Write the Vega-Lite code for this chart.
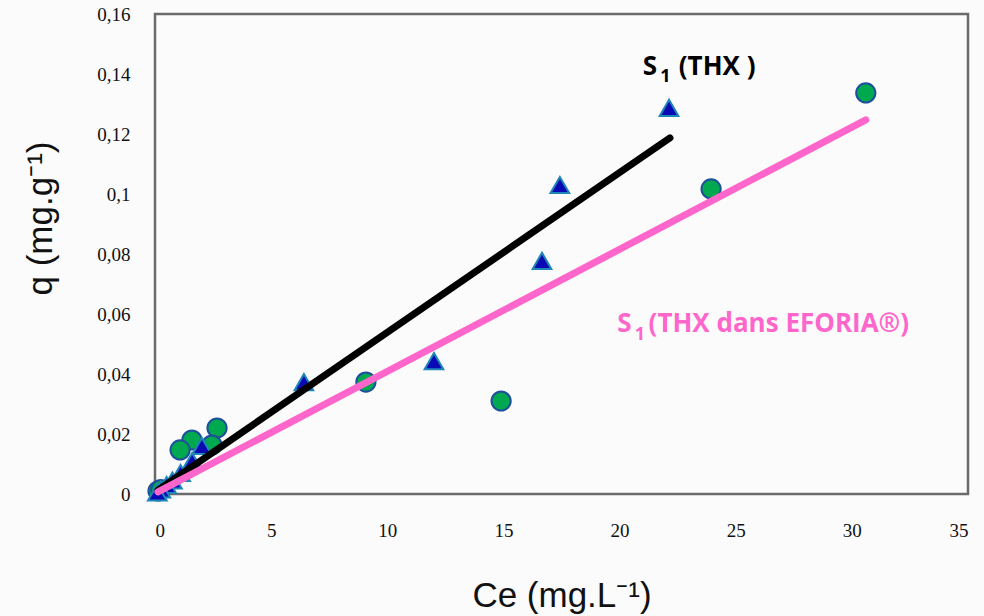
{
  "$schema": "https://vega.github.io/schema/vega-lite/v6.json",
  "width": 813,
  "height": 480,
  "autosize": {"type": "none"},
  "padding": {"left": 155, "top": 14, "right": 16, "bottom": 122},
  "background": "#fbfbfb",
  "config": {
    "view": {"stroke": "#6a6a6a", "strokeWidth": 2.5, "fill": "#fbfbfb"},
    "axis": {"domain": false, "ticks": false, "grid": false, "labelFont": "Liberation Serif", "labelFontSize": 19, "labelColor": "#111", "titleFont": "Liberation Sans", "titleFontWeight": "normal", "titleFontSize": 35, "titleColor": "#111"}
  },
  "datasets": {
    "points": [
      {"ce": 30.6, "q": 0.1337, "serie": "EFORIA"},
      {"ce": 23.94, "q": 0.1017, "serie": "EFORIA"},
      {"ce": 14.9, "q": 0.031, "serie": "EFORIA"},
      {"ce": 9.08, "q": 0.0373, "serie": "EFORIA"},
      {"ce": 2.67, "q": 0.022, "serie": "EFORIA"},
      {"ce": 2.45, "q": 0.0163, "serie": "EFORIA"},
      {"ce": 1.59, "q": 0.018, "serie": "EFORIA"},
      {"ce": 1.08, "q": 0.0147, "serie": "EFORIA"},
      {"ce": 0.13, "q": 0.001, "serie": "EFORIA"},
      {"ce": 0.25, "q": 0.0015, "serie": "EFORIA"},
      {"ce": 22.13, "q": 0.1287, "serie": "THX"},
      {"ce": 17.43, "q": 0.103, "serie": "THX"},
      {"ce": 16.66, "q": 0.0777, "serie": "THX"},
      {"ce": 12.01, "q": 0.0443, "serie": "THX"},
      {"ce": 6.41, "q": 0.0373, "serie": "THX"},
      {"ce": 2.02, "q": 0.016, "serie": "THX"},
      {"ce": 1.6, "q": 0.011, "serie": "THX"},
      {"ce": 1.1, "q": 0.007, "serie": "THX"},
      {"ce": 0.75, "q": 0.0045, "serie": "THX"},
      {"ce": 0.5, "q": 0.003, "serie": "THX"},
      {"ce": 0.25, "q": 0.0015, "serie": "THX"},
      {"ce": 0.1, "q": 0.0005, "serie": "THX"}
    ],
    "lines": [
      {"ce": 0.13, "q": 0.0013, "serie": "THX"},
      {"ce": 22.17, "q": 0.1187, "serie": "THX"},
      {"ce": 0.13, "q": 0.0007, "serie": "EFORIA"},
      {"ce": 30.6, "q": 0.1247, "serie": "EFORIA"}
    ],
    "labels": [
      {"ce": 21.0, "q": 0.1425, "text": "S", "size": 26, "serie": "THX"},
      {"ce": 21.75, "q": 0.139, "text": "1", "size": 18, "serie": "THX"},
      {"ce": 22.55, "q": 0.1425, "text": "(THX )", "size": 26, "serie": "THX"},
      {"ce": 19.9, "q": 0.0566, "text": "S", "size": 26, "serie": "EFORIA"},
      {"ce": 20.65, "q": 0.0531, "text": "1", "size": 18, "serie": "EFORIA"},
      {"ce": 21.25, "q": 0.0566, "text": "(THX dans EFORIA®)", "size": 26, "serie": "EFORIA"}
    ]
  },
  "layer": [
    {
      "data": {"name": "points"},
      "transform": [{"filter": "datum.serie === 'EFORIA'"}],
      "mark": {"type": "point", "shape": "circle", "filled": true, "size": 370, "fill": "#00a84f", "stroke": "#1f4f9c", "strokeWidth": 2, "opacity": 1},
      "encoding": {
        "x": {"field": "ce", "type": "quantitative", "scale": {"domain": [0, 35], "nice": false}, "axis": {"values": [0, 5, 10, 15, 20, 25, 30, 35], "title": "Ce (mg.L⁻¹)", "labelPadding": 27, "titleY": 101, "titleBaseline": "middle"}},
        "y": {"field": "q", "type": "quantitative", "scale": {"domain": [0, 0.16], "nice": false}, "axis": {"values": [0, 0.02, 0.04, 0.06, 0.08, 0.1, 0.12, 0.14, 0.16], "labelExpr": "replace(format(datum.value, '.2~f'), '.', ',')", "title": "q (mg.g⁻¹)", "labelPadding": 25, "titleX": -115, "titleY": 204, "titleBaseline": "middle"}}
      }
    },
    {
      "data": {"name": "points"},
      "transform": [{"filter": "datum.serie === 'THX'"}],
      "mark": {"type": "point", "shape": "triangle-up", "filled": true, "size": 350, "fill": "#0a0ab4", "stroke": "#1f86b8", "strokeWidth": 2, "opacity": 1},
      "encoding": {
        "x": {"field": "ce", "type": "quantitative"},
        "y": {"field": "q", "type": "quantitative"}
      }
    },
    {
      "data": {"name": "lines"},
      "mark": {"type": "line", "strokeWidth": 7, "strokeCap": "round"},
      "encoding": {
        "x": {"field": "ce", "type": "quantitative"},
        "y": {"field": "q", "type": "quantitative"},
        "detail": {"field": "serie"},
        "color": {"field": "serie", "type": "nominal", "scale": {"domain": ["THX", "EFORIA"], "range": ["#000000", "#ff66cc"]}, "legend": null}
      }
    },
    {
      "data": {"name": "labels"},
      "mark": {"type": "text", "font": "Open Sans", "fontWeight": "bold", "align": "left", "baseline": "middle"},
      "encoding": {
        "x": {"field": "ce", "type": "quantitative"},
        "y": {"field": "q", "type": "quantitative"},
        "text": {"field": "text"},
        "size": {"field": "size", "type": "quantitative", "scale": null},
        "color": {"field": "serie", "type": "nominal", "scale": {"domain": ["THX", "EFORIA"], "range": ["#000000", "#ff66cc"]}, "legend": null}
      }
    }
  ]
}
